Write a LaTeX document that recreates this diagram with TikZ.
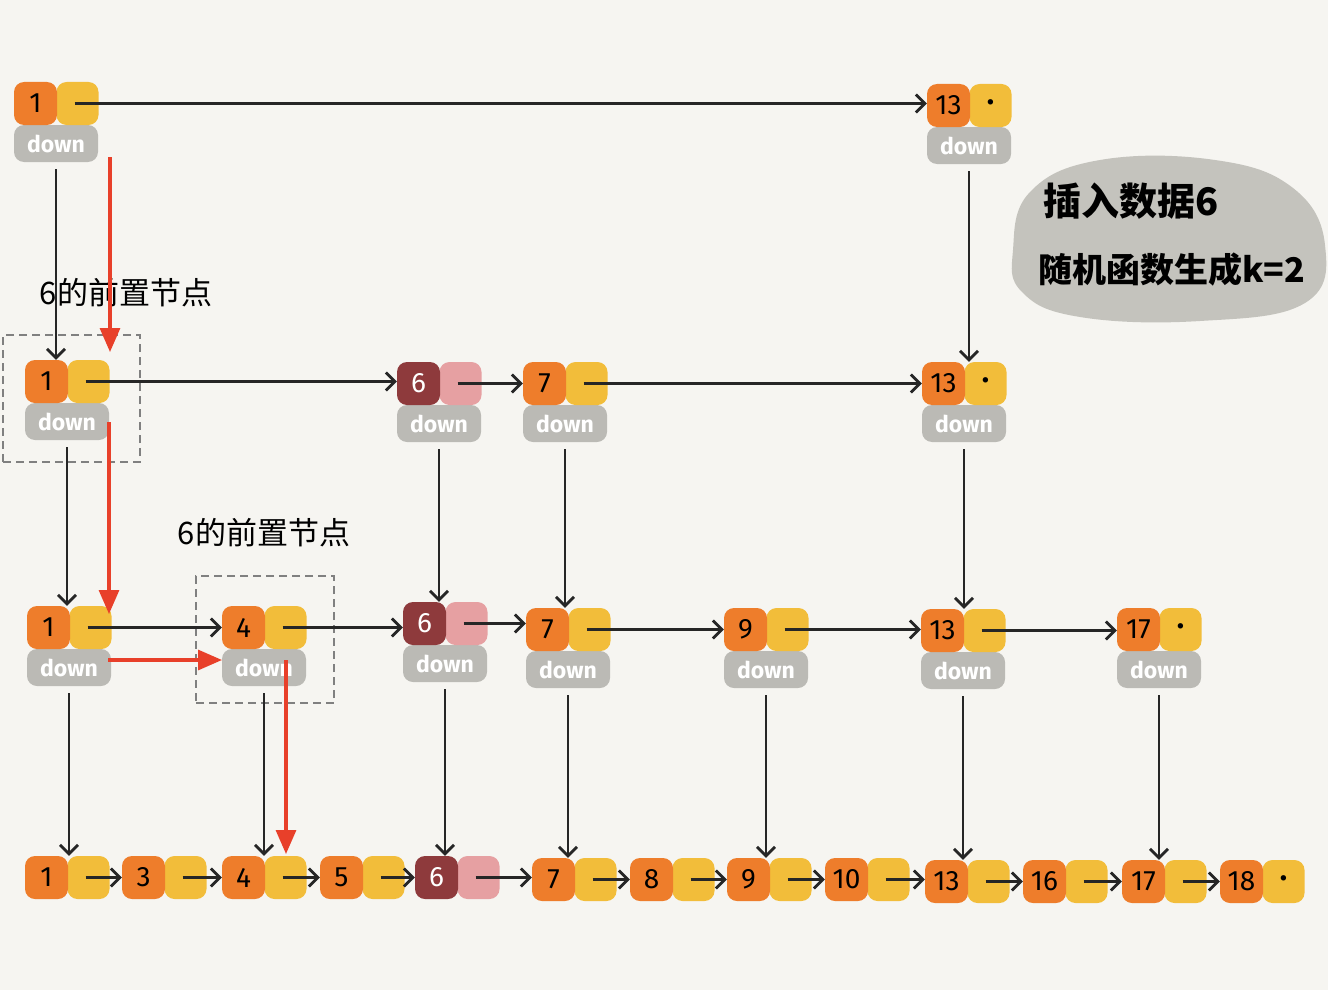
\documentclass[tikz,border=0pt]{standalone}
\usepackage{fontspec}
\setmainfont{Fira Sans}
\newfontfamily\cjk{Noto Sans CJK SC}
\usetikzlibrary{arrows.meta,calc}
\definecolor{bgc}{HTML}{F6F5F1}
\definecolor{korange}{HTML}{EE7D2B}
\definecolor{kyellow}{HTML}{F2BD3A}
\definecolor{kgray}{HTML}{BBBAB5}
\definecolor{kdarkred}{HTML}{8E3A3C}
\definecolor{kpink}{HTML}{E6A0A2}
\definecolor{kblob}{HTML}{C4C3BD}
\definecolor{kred}{HTML}{E8402A}
\definecolor{kdash}{HTML}{808080}
\tikzset{
  keybox/.style={fill=korange, rounded corners=10pt, minimum width=43pt, minimum height=43pt, inner sep=0pt, font=\fontsize{28}{28}\selectfont},
  ptrbox/.style={fill=kyellow, rounded corners=10pt, minimum width=42pt, minimum height=43pt, inner sep=0pt, font=\fontsize{24}{24}\selectfont},
  downbox/.style={fill=kgray, rounded corners=10pt, minimum width=84pt, minimum height=37pt, inner sep=0pt, text=white, font=\fontsize{23}{23}\selectfont\bfseries},
  newkey/.style={fill=kdarkred, text=white},
  newptr/.style={fill=kpink},
  plainstyle/.style={},
  link/.style={draw=black!85, line width=2.8pt, -{Straight Barb[length=9pt,width=18pt]}},
  redpath/.style={draw=kred, line width=3.2pt, -{Triangle[length=24pt,width=20pt]}},
  dashbox/.style={draw=kdash, dash pattern=on 8pt off 5pt, line width=1.5pt, inner sep=0pt},
  cjklabel/.style={font=\cjk\fontsize{31}{31}\selectfont, inner sep=0pt},
  blobtext/.style={font=\cjk\bfseries\fontsize{38}{38}\selectfont, inner sep=0pt, anchor=west}
}
% #1 name, #2 x, #3 y, #4 key text, #5 ptr text, #6 key style, #7 ptr style
\newcommand\SkEl[7]{%
  \node[ptrbox,#7] (#1p) at ({#2+63.5},{#3+21.5}) {#5};
  \node[keybox,#6] (#1) at ({#2+21.5},{#3+21.5}) {#4};
}
\newcommand\SkDown[3]{%
  \node[downbox] (#1d) at ({#2+42},{#3+61.5}) {down};
}
\newcommand\SkDot{\textbullet}
\begin{document}
\begin{tikzpicture}[x=1pt,y=-1pt]
\fill[bgc] (0,0) rectangle (1328,990);
\useasboundingbox (0,0) rectangle (1328,990);

% blob
\fill[kblob] plot[smooth cycle, tension=0.7] coordinates {(1013,250) (1030,192) (1100,160) (1215,160) (1293,188) (1325,245) (1305,303) (1200,321) (1080,317) (1022,292)};
\node[blobtext] (blob1) at (1043,201) {插入数据6};
\node[blobtext, font=\cjk\bfseries\fontsize{34}{34}\selectfont] (blob2) at (1038,270) {随机函数生成k=2};

% dashed selection boxes
\node[dashbox, minimum width=137pt, minimum height=127pt] (sel1) at (71.5,398.5) {};
\node[dashbox, minimum width=138pt, minimum height=127pt] (sel2) at (265,639.5) {};

% labels
\node[cjklabel] (lab1) at (126,293) {6的前置节点};
\node[cjklabel] (lab2) at (264,533) {6的前置节点};

% level 3
\SkDown{A1}{14}{82}
\SkEl{A1}{14}{82}{1}{}{plainstyle}{plainstyle}
\SkDown{A13}{927}{84}
\SkEl{A13}{927}{84}{13}{\SkDot}{plainstyle}{plainstyle}

% level 2
\SkDown{B1}{25}{360}
\SkEl{B1}{25}{360}{1}{}{plainstyle}{plainstyle}
\SkDown{B6}{397}{362}
\SkEl{B6}{397}{362}{6}{}{newkey}{newptr}
\SkDown{B7}{523}{362}
\SkEl{B7}{523}{362}{7}{}{plainstyle}{plainstyle}
\SkDown{B13}{922}{362}
\SkEl{B13}{922}{362}{13}{\SkDot}{plainstyle}{plainstyle}

% level 1
\SkDown{C1}{27}{606}
\SkEl{C1}{27}{606}{1}{}{plainstyle}{plainstyle}
\SkDown{C4}{222}{606}
\SkEl{C4}{222}{606}{4}{}{plainstyle}{plainstyle}
\SkDown{C6}{403}{602}
\SkEl{C6}{403}{602}{6}{}{newkey}{newptr}
\SkDown{C7}{526}{608}
\SkEl{C7}{526}{608}{7}{}{plainstyle}{plainstyle}
\SkDown{C9}{724}{608}
\SkEl{C9}{724}{608}{9}{}{plainstyle}{plainstyle}
\SkDown{C13}{921}{609}
\SkEl{C13}{921}{609}{13}{}{plainstyle}{plainstyle}
\SkDown{C17}{1117}{608}
\SkEl{C17}{1117}{608}{17}{\SkDot}{plainstyle}{plainstyle}

% level 0
\SkEl{D1}{25}{856}{1}{}{plainstyle}{plainstyle}
\SkEl{D3}{122}{856}{3}{}{plainstyle}{plainstyle}
\SkEl{D4}{222}{856}{4}{}{plainstyle}{plainstyle}
\SkEl{D5}{320}{856}{5}{}{plainstyle}{plainstyle}
\SkEl{D6}{415}{856}{6}{}{newkey}{newptr}
\SkEl{D7}{532}{858}{7}{}{plainstyle}{plainstyle}
\SkEl{D8}{630}{858}{8}{}{plainstyle}{plainstyle}
\SkEl{D9}{727}{858}{9}{}{plainstyle}{plainstyle}
\SkEl{D10}{825}{858}{10}{}{plainstyle}{plainstyle}
\SkEl{D13}{925}{860}{13}{}{plainstyle}{plainstyle}
\SkEl{D16}{1023}{860}{16}{}{plainstyle}{plainstyle}
\SkEl{D17}{1122}{860}{17}{}{plainstyle}{plainstyle}
\SkEl{D18}{1220}{860}{18}{\SkDot}{plainstyle}{plainstyle}

% horizontal links
\foreach \a/\b in {A1/A13,B1/B6,B6/B7,B7/B13,C1/C4,C4/C6,C6/C7,C7/C9,C9/C13,C13/C17,D1/D3,D3/D4,D4/D5,D5/D6,D6/D7,D7/D8,D8/D9,D9/D10,D10/D13,D13/D16,D16/D17,D17/D18}
  \draw[link, shorten <=-3pt] (\a p.center) -- (\a p.center -| \b.west);

% down links
\foreach \a/\b in {A1/B1,A13/B13,B1/C1,B6/C6,B7/C7,B13/C13,C1/D1,C4/D4,C6/D6,C7/D7,C9/D9,C13/D13,C17/D17}
  \draw[link, shorten <=7pt] (\a d.south) -- (\a d.south |- \b.north);

% red search path
\coordinate (r1s) at (110,157);
\coordinate (r1e) at (110,352);
\coordinate (r2s) at (109,422);
\coordinate (r2e) at (109,614);
\coordinate (r3s) at (108,660);
\coordinate (r3e) at (222,660);
\coordinate (r4s) at (286,660);
\coordinate (r4e) at (286,854);
\draw[redpath] (r1s) -- (r1e);
\draw[redpath] (r2s) -- (r2e);
\draw[redpath] (r3s) -- (r3e);
\draw[redpath] (r4s) -- (r4e);
\end{tikzpicture}
\end{document}
